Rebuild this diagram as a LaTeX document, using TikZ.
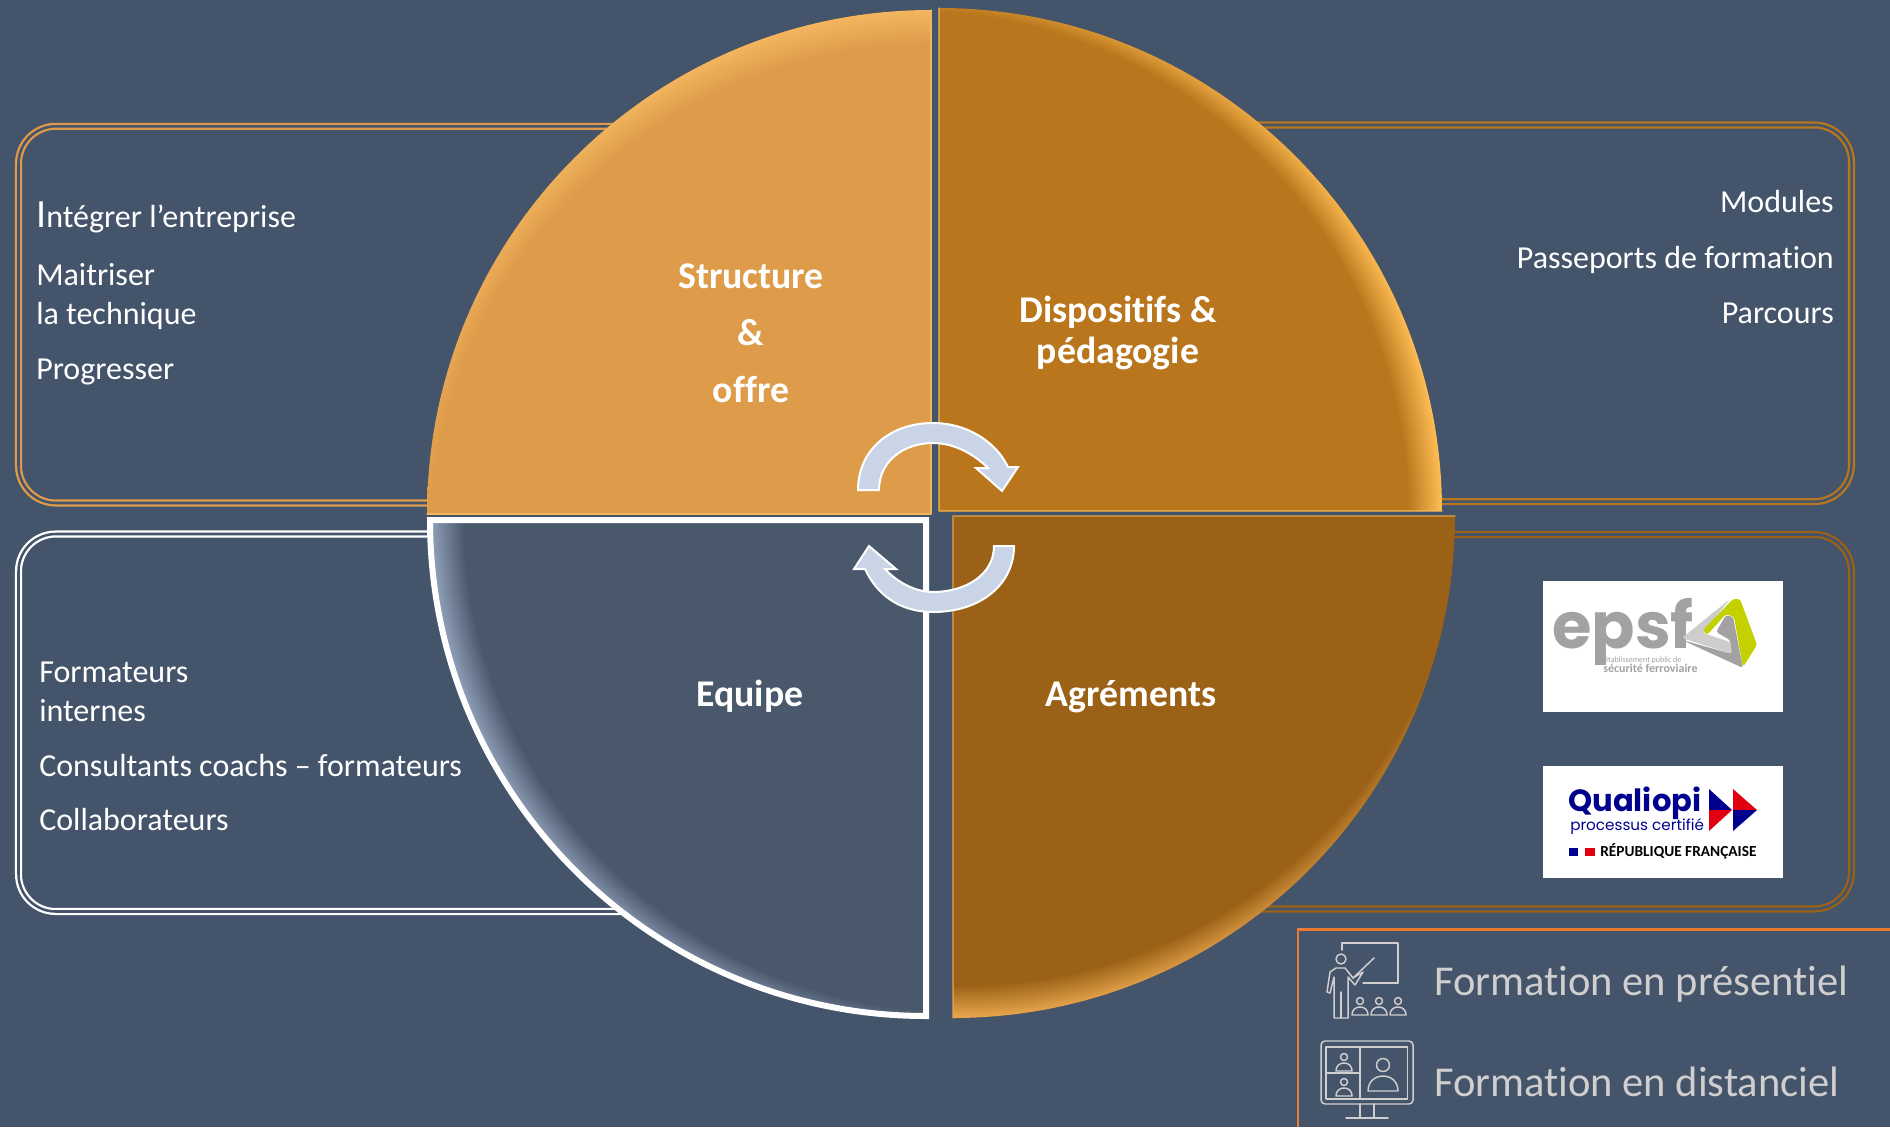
\documentclass[tikz,border=0pt]{standalone}
\usepackage{fontspec}
\setmainfont{Carlito}[Ligatures=NoCommon]
\newfontfamily\logofont{Poppins}
\usetikzlibrary{calc}
\definecolor{slate}{HTML}{44546A}
\definecolor{sandBase}{HTML}{DE9B4A}
\definecolor{sandLit}{HTML}{F3B65F}
\definecolor{ochreBase}{HTML}{B9761C}
\definecolor{ochreLit}{HTML}{FFBE55}
\definecolor{umberBase}{HTML}{9B6217}
\definecolor{umberLit}{HTML}{EDAA50}
\definecolor{teamBase}{HTML}{4A586C}
\definecolor{teamLit}{HTML}{93A3BC}
\definecolor{cycleFill}{HTML}{C9D5E6}
\definecolor{legendLine}{HTML}{E97B32}
\definecolor{legendText}{HTML}{D0CECE}
\definecolor{epsfGrey}{HTML}{A3A1A1}
\definecolor{epsfPale}{HTML}{CFCDCC}
\definecolor{epsfGreen}{HTML}{C4D100}
\definecolor{quaBlue}{HTML}{00008F}
\definecolor{quaRed}{HTML}{E1000F}
\pgfdeclareradialshading{rimSand}{\pgfpointorigin}{color(0bp)=(sandBase);color(23.4bp)=(sandBase);color(25bp)=(sandLit);color(50bp)=(sandLit)}
\pgfdeclareradialshading{rimOchre}{\pgfpointorigin}{color(0bp)=(ochreBase);color(23.4bp)=(ochreBase);color(25bp)=(ochreLit);color(50bp)=(ochreLit)}
\pgfdeclareradialshading{rimUmber}{\pgfpointorigin}{color(0bp)=(umberBase);color(23.4bp)=(umberBase);color(25bp)=(umberLit);color(50bp)=(umberLit)}
\pgfdeclareradialshading{rimTeam}{\pgfpointorigin}{color(0bp)=(teamBase);color(23.4bp)=(teamBase);color(25bp)=(teamLit);color(50bp)=(teamLit)}
\tikzset{
  panel/.style={draw=#1,double=slate,line width=1.7pt,double distance=1.9pt,rounded corners=28pt},
  bodytext/.style={text=white,font=\fontsize{24}{29}\selectfont,inner sep=0pt,anchor=base west},
  righttext/.style={bodytext,anchor=base east},
  headtext/.style={text=white,font=\fontsize{28.3}{30.5}\selectfont\bfseries,inner sep=0pt,align=center,anchor=base},
  legendlabel/.style={text=legendText,font=\fontsize{31.9}{36}\selectfont,inner sep=0pt,anchor=base west},
  cyclearrow/.style={fill=cycleFill,draw=white,line width=1.5pt,line join=miter},
  icon/.style={draw=legendText,line width=1.1pt},
  logotext/.style={inner sep=0pt,anchor=base west}
}
% #1 name, #2 corner, #3 radius, #4 start angle, #5 lit angle, #6 shading
\newcommand{\quadrant}[6]{
  \coordinate (#1C) at #2;
  \coordinate (#1A) at ($(#1C)+(#4:#3)$);
  \coordinate (#1B) at ($(#1C)+(#4+90:#3)$);
  \fill[black,opacity=.25,shift={(3,3)}] (#1C) -- (#1A) arc[start angle=#4,delta angle=90,radius=#3] -- cycle;
  \begin{scope}
    \clip (#1C) -- (#1A) arc[start angle=#4,delta angle=90,radius=#3] -- cycle;
    \shade[shading=#6] ($(#1C)+(#5+180:36)$) circle ({#3+36});
  \end{scope}
}
\newcommand{\attendee}[3]{
  \draw[icon] (#1,#2) circle (#3);
  \draw[icon,line join=round] ({#1-2.3*#3},{#2+4*#3}) -- ({#1+2.3*#3},{#2+4*#3})
    .. controls ({#1+2.3*#3},{#2+2.5*#3}) and ({#1+1.2*#3},{#2+1.7*#3}) .. (#1,{#2+1.7*#3})
    .. controls ({#1-1.2*#3},{#2+1.7*#3}) and ({#1-2.3*#3},{#2+2.5*#3}) .. cycle;
}
\begin{document}
\begin{tikzpicture}[x=0.75pt,y=-0.75pt,line cap=round,line join=round]
  \fill[slate] (0,0) rectangle (1890,1127);
  \useasboundingbox (0,0) rectangle (1890,1127);

  \draw[panel=sandBase] (18.5,126.3) rectangle (800,503);
  \draw[panel=ochreBase] (1100,125) rectangle (1851.5,501.7);
  \draw[panel=white] (18.5,534) rectangle (800,911.5);
  \draw[panel=umberBase] (1100,534.5) rectangle (1851.5,909);

  \quadrant{tl}{(931,514)}{504}{180}{265}{rimSand}
  \quadrant{tr}{(939,511)}{503}{270}{355}{rimOchre}
  \quadrant{br}{(953,516)}{502}{0}{105}{rimUmber}
  \quadrant{bl}{(926,520)}{496}{90}{170}{rimTeam}

  \draw[sandLit,line width=1pt] (tlB)--(tlC)--(tlA);
  \draw[ochreLit,opacity=.6,line width=1pt] (trA)--(trC)--(trB);
  \draw[umberLit,opacity=.6,line width=1pt] (brB)--(brC)--(brA);
  \draw[white,line width=4.5pt,line join=miter,line cap=butt] (blC) -- (blA) arc[start angle=90,delta angle=90,radius=496] -- cycle;

  \draw[cyclearrow] (858,490) .. controls (858,450) and (890,423) .. (933,423)
    .. controls (965,423) and (995,440) .. (1008,467) -- (1018,467) -- (1002,491) -- (976,468) -- (988,468)
    .. controls (975,455) and (955,443) .. (933,443) .. controls (905,443) and (879,460) .. (879,490) -- cycle;
  \draw[cyclearrow] (1014,546) .. controls (1014,585) and (980,612) .. (933,612)
    .. controls (900,612) and (877,595) .. (865,569) -- (854,569) -- (869,546) -- (896,569) -- (885,569)
    .. controls (897,582) and (915,592) .. (933,592) .. controls (965,592) and (994,575) .. (994,546) -- cycle;

  \node[bodytext] (integrer) at (36,227.5) {{\fontsize{30}{30}\selectfont I}ntégrer l’entreprise};
  \node[bodytext,align=left] (maitriser) at (36,324.5) {Maitriser\\la technique};
  \node[bodytext] (progresser) at (36,379) {Progresser};
  \node[righttext] (modules) at (1834,212) {Modules};
  \node[righttext] (passeports) at (1834,268) {Passeports de formation};
  \node[righttext] (parcours) at (1834,323) {Parcours};
  \node[bodytext,align=left] (formateurs) at (39,721) {Formateurs\\internes};
  \node[bodytext] (consultants) at (39,776) {Consultants coachs – formateurs};
  \node[bodytext] (collaborateurs) at (39,830) {Collaborateurs};

  \node[headtext] (structure) at (751,288.5) {Structure};
  \node[headtext] (et) at (751,345.5) {\&};
  \node[headtext] (offre) at (751,402.5) {offre};
  \node[headtext] (dispositifs) at (1118,363.5) {Dispositifs \&\\pédagogie};
  \node[headtext] (equipe) at (750,706.5) {Equipe};
  \node[headtext] (agrements) at (1131,706.5) {Agréments};

  \fill[white] (1543,581) rectangle (1783,712);
  \node[logotext,text=epsfGrey,font=\logofont\bfseries\fontsize{48}{48}\selectfont] (epsf) at (1552,648) {epsf};
  \node[logotext,text=epsfGrey,font=\fontsize{6}{6}\selectfont] (epsfTop) at (1604,662) {établissement public de};
  \node[logotext,text=epsfGrey,font=\fontsize{9}{9}\selectfont\bfseries] (epsfBottom) at (1603,672) {sécurité ferroviaire};
  \fill[epsfPale,rounded corners=2pt] (1730,599) -- (1682,638) -- (1732,654) -- (1730,642) -- (1703,633) -- cycle;
  \fill[epsfGrey,rounded corners=2pt] (1682,640) -- (1743,668) -- (1733,617) -- (1726,615) -- (1716,632) -- (1730,640) -- (1732,654) -- cycle;
  \fill[epsfGreen,rounded corners=2pt] (1733,599) -- (1740,599) -- (1757,645) -- (1743,667) -- (1734,617) -- (1726,614) -- (1707,635) -- (1703,630) -- cycle;

  \fill[white] (1543,766) rectangle (1783,878);
  \node[logotext,text=quaBlue,font=\logofont\bfseries\fontsize{23}{23}\selectfont] (qualiopi) at (1568,811) {Qualiopi};
  \node[logotext,text=quaBlue,font=\logofont\fontsize{11.4}{12}\selectfont] (certifie) at (1570,830) {processus certifié};
  \node[logotext,text=black,font=\fontsize{11.5}{12}\selectfont\bfseries] (republique) at (1600,856) {RÉPUBLIQUE FRANÇAISE};
  \fill[quaBlue] (1569,848) rectangle (1578,856);
  \fill[quaRed] (1585,848) rectangle (1595,856);
  \fill[quaBlue] (1709,789) -- (1732,810) -- (1709,810) -- cycle;
  \fill[quaRed] (1709,831) -- (1732,810) -- (1709,810) -- cycle;
  \fill[quaRed] (1733,789) -- (1757,810) -- (1733,810) -- cycle;
  \fill[quaBlue] (1733,831) -- (1757,810) -- (1733,810) -- cycle;

  \draw[legendLine,line width=2.2pt,line cap=butt,line join=miter] (1890,929.5) -- (1298,929.5) -- (1298,1127);

  \draw[icon] (1342,950) -- (1342,943) -- (1398,943) -- (1398,983) -- (1363,983);
  \draw[icon] (1341,959) circle (5);
  \draw[icon] (1353,978) -- (1374,958);
  \draw[icon] (1334,1018) -- (1334,977) -- (1330,993) -- (1327,992) -- (1330,972) -- (1336,968) -- (1345,968) -- (1353,978) -- (1363,972) -- (1355,985) -- (1348,977) -- (1348,1018) -- cycle;
  \draw[icon] (1341,992) -- (1341,1018);
  \foreach \px in {1360,1379,1398}{\attendee{\px}{1001}{3.5}}
  \node[legendlabel] (presentiel) at (1434,995) {Formation en présentiel};

  \draw[icon,rounded corners=3pt] (1321,1041) rectangle (1413,1104);
  \draw[icon] (1326,1047) rectangle (1407.5,1099);
  \draw[icon] (1360,1047) -- (1360,1099) (1326,1073) -- (1360,1073);
  \attendee{1344}{1057}{3.5}
  \attendee{1344}{1082}{3.5}
  \attendee{1383}{1065}{6.5}
  \draw[icon] (1360,1104) -- (1360,1118) (1374,1104) -- (1374,1118) (1346,1118) -- (1388,1118);
  \node[legendlabel] (distanciel) at (1434,1096) {Formation en distanciel};
\end{tikzpicture}
\end{document}
